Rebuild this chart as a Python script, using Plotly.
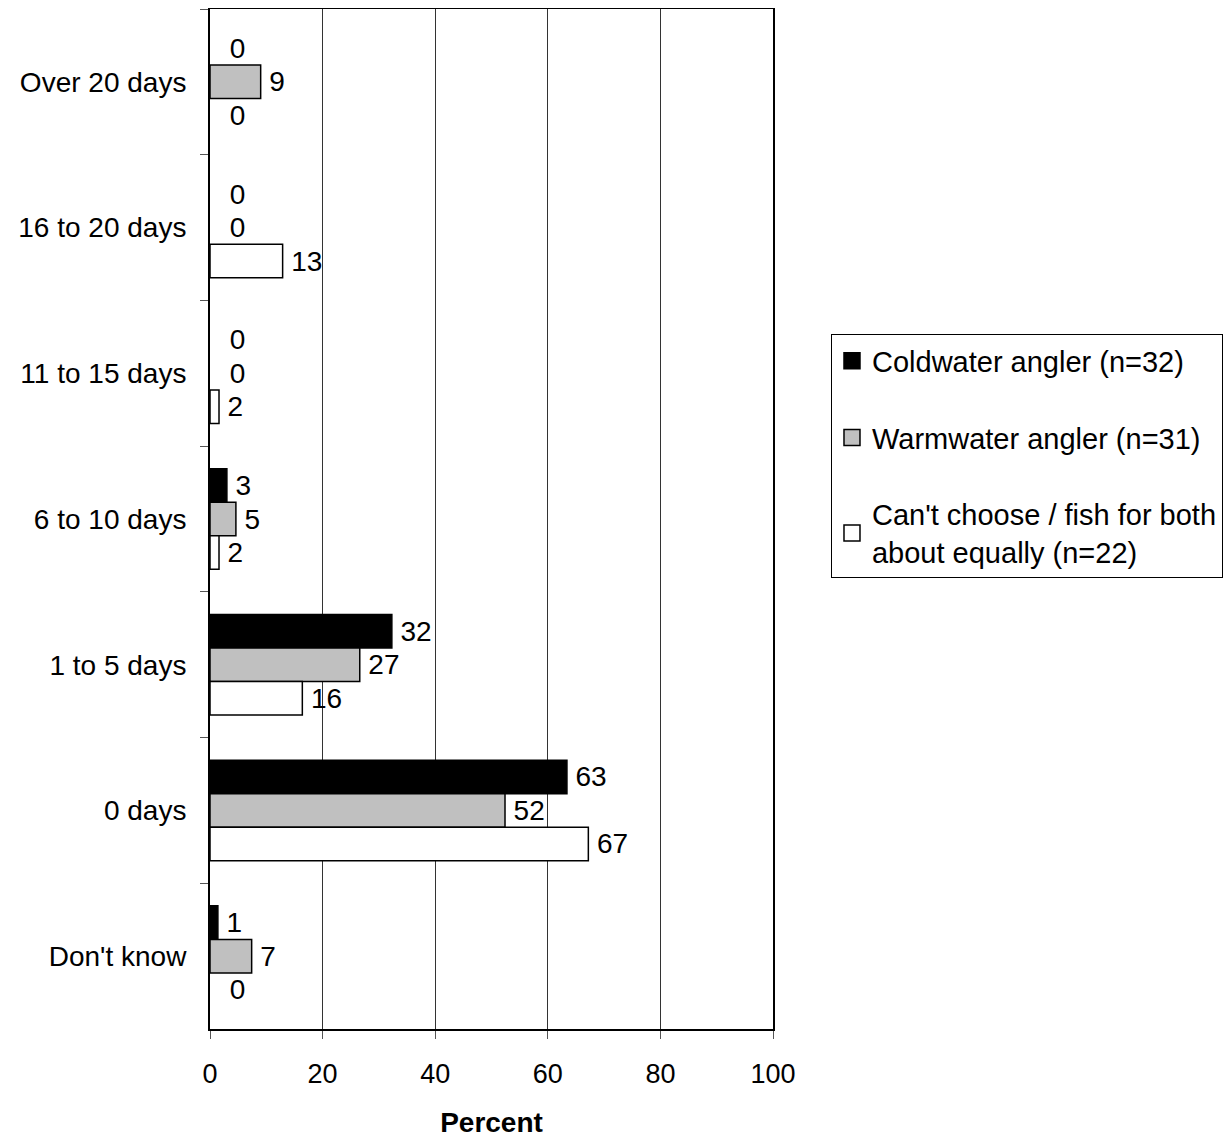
import plotly.graph_objects as go

categories = ["Over 20 days", "16 to 20 days", "11 to 15 days", "6 to 10 days",
              "1 to 5 days", "0 days", "Don't know"]
coldwater = [0, 0, 0, 3.0, 32.3, 63.4, 1.4]
warmwater = [9.0, 0, 0, 4.6, 26.6, 52.4, 7.4]
cantchoose = [0, 12.9, 1.6, 1.6, 16.4, 67.2, 0]
series_names = ["Coldwater angler (n=32)", "Warmwater angler (n=31)",
                "Can't choose / fish for both<br>about equally (n=22)"]
colors = ["#000000", "#C0C0C0", "#FFFFFF"]
x_ticks = [0, 20, 40, 60, 80, 100]

FONT = "Arial, Liberation Sans, sans-serif"
TS = "\u2009"


def label(v):
    s = f"{v:.0f}"
    return (TS * 3 if v == 0 else TS) + s


fig = go.Figure()
for i, (name, vals) in enumerate(zip(series_names, [coldwater, warmwater, cantchoose])):
    fig.add_trace(go.Bar(
        y=categories, x=vals, orientation="h", name=name,
        marker=dict(color=colors[i],
                    line=dict(color="black", width=[0 if v == 0 else 1.5 for v in vals])),
        text=[label(v) for v in vals], textposition="outside",
        textfont=dict(size=28, color="black", family=FONT),
        cliponaxis=False, legendgroup=f"g{i}", showlegend=False,
    ))
for i, name in enumerate(series_names):
    fig.add_trace(go.Scatter(
        x=[None], y=[None], mode="markers", name=name, legendgroup=f"g{i}",
        marker=dict(symbol="square", size=18, color=colors[i],
                    line=dict(color="black", width=1.5)),
    ))

fig.update_layout(
    width=1223, height=1130,
    margin=dict(l=202, r=458, t=1, b=109),
    barmode="group", bargap=0.31, bargroupgap=0,
    plot_bgcolor="white", paper_bgcolor="white",
    font=dict(family=FONT, size=28, color="black"),
    legend=dict(x=1.103, y=0.681, xanchor="left", yanchor="top",
                bordercolor="black", borderwidth=1, bgcolor="white",
                font=dict(size=29, family=FONT), traceorder="grouped",
                tracegroupgap=36, itemwidth=30),
    uniformtext=dict(minsize=28, mode="show"),
)
fig.update_xaxes(range=[0, 100], tickvals=x_ticks, ticktext=[str(t) for t in x_ticks],
                 showgrid=True, gridcolor="#333333", gridwidth=1,
                 showline=True, linecolor="black", linewidth=2, mirror=True,
                 ticks="outside", ticklen=8, tickcolor="#555555",
                 tickfont=dict(size=27), zeroline=False, automargin=False,
                 ticklabelstandoff=12,
                 title=dict(text="<b>Percent</b>", font=dict(size=28), standoff=24))
fig.update_yaxes(autorange="reversed", showline=True, linecolor="black", linewidth=2,
                 mirror=True, ticks="outside", ticklen=8, tickcolor="#555555",
                 tickson="boundaries", tickfont=dict(size=28), showgrid=False,
                 automargin=False, ticklabelstandoff=16)

fig.write_html("out.html")
